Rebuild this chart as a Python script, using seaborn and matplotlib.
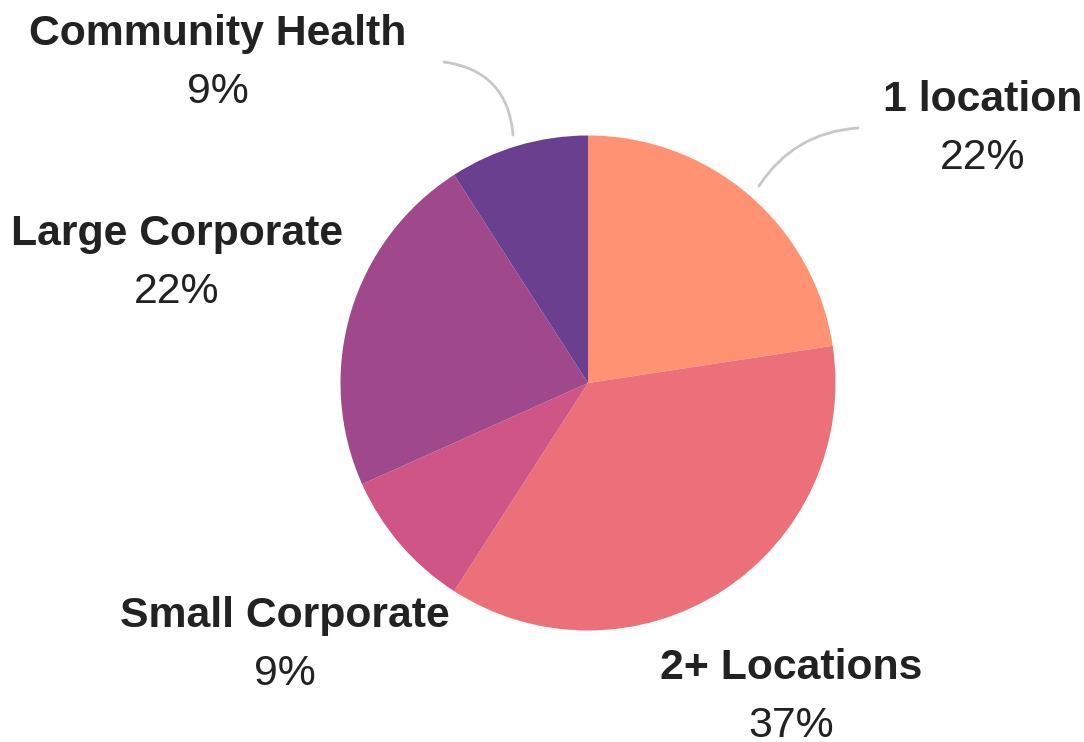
import matplotlib
matplotlib.use("Agg")
import matplotlib.pyplot as plt
import seaborn as sns

# data (clockwise from 12 o'clock)
segments = ["1 location", "2+ Locations", "Small Corporate", "Large Corporate", "Community Health"]
shares = [22.6, 36.5, 9.2, 22.6, 9.1]
pct_labels = ["22%", "37%", "9%", "22%", "9%"]
colors = ["#FF9272", "#EB707A", "#CE5586", "#A0488C", "#6A3F8F"]

# layout, in pixels from the top-left corner (x centre, baseline of name)
W, H = 1084, 742
CENTER = (588, 383)
RADIUS = 247.5
label_pos = [(983, 111), (791, 679), (285, 627), (177, 245), (218, 45)]
line_gap = 58

sns.set_theme(style="white")
plt.rcParams["font.family"] = ["Liberation Sans", "DejaVu Sans"]

fig = plt.figure(figsize=(W / 100, H / 100), dpi=100)
ax = fig.add_axes([0, 0, 1, 1])

ax.pie(shares, colors=colors, startangle=90, counterclock=False,
       center=(CENTER[0], H - CENTER[1]), radius=RADIUS,
       wedgeprops=dict(linewidth=0), frame=True)
ax.set_xlim(0, W)
ax.set_ylim(0, H)
ax.set_aspect("equal")
ax.axis("off")

txt = "#222222"
for name, pct, (x, y) in zip(segments, pct_labels, label_pos):
    ax.text(x, H - y, name, ha="center", va="baseline", fontsize=30.8,
            fontweight="bold", color=txt)
    ax.text(x, H - y - line_gap, pct, ha="center", va="baseline", fontsize=30.8,
            color=txt)

# curved leader lines
leader = dict(arrowstyle="-", color="#c8c8c8", lw=2, shrinkA=0, shrinkB=0)
ax.annotate("", xy=(513, H - 135), xytext=(444, H - 62),
            arrowprops=dict(leader, connectionstyle="arc3,rad=-0.4"))
ax.annotate("", xy=(759, H - 186), xytext=(858, H - 128),
            arrowprops=dict(leader, connectionstyle="arc3,rad=0.25"))

fig.savefig("out.png", dpi=100)
